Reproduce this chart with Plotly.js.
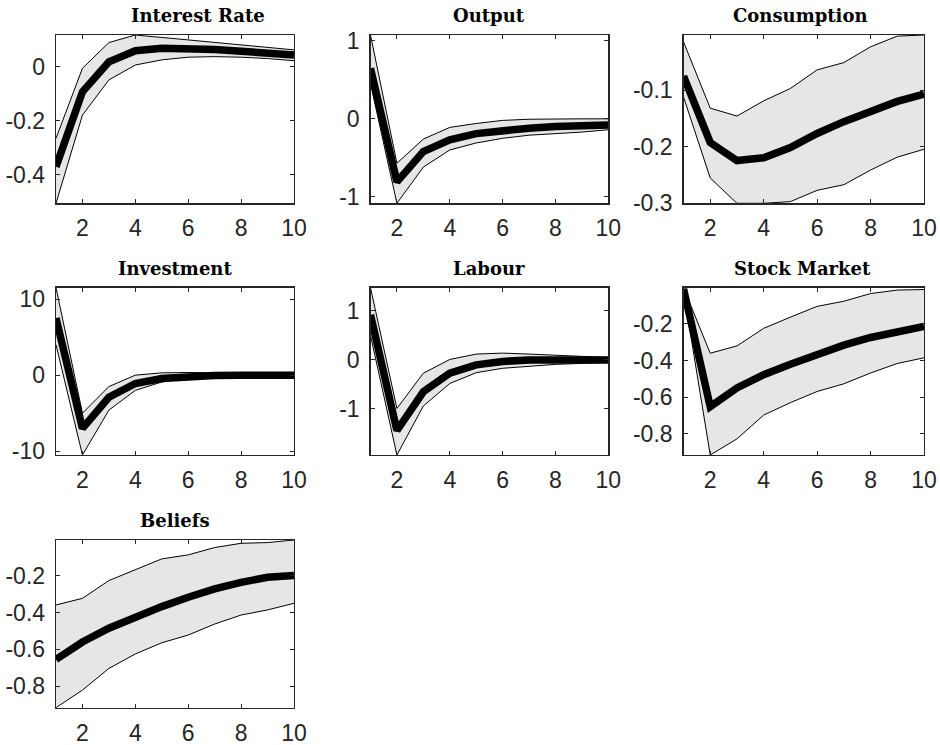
<!DOCTYPE html>
<html>
<head>
<meta charset="utf-8">
<script src="https://cdn.plot.ly/plotly-3.0.1.min.js"></script>
<style>html,body{margin:0;padding:0;background:#fff;}#chart{width:940px;height:745px;}</style>
</head>
<body>
<div id="chart"></div>
<script>
// ---- data ----
const horizon = [1, 2, 3, 4, 5, 6, 7, 8, 9, 10];
const panelTitles = ["Interest Rate", "Output", "Consumption", "Investment", "Labour", "Stock Market", "Beliefs"];

const irMed = [-0.370, -0.093, 0.018, 0.059, 0.068, 0.067, 0.063, 0.057, 0.050, 0.043];
const irUp  = [-0.265, -0.006, 0.089, 0.117, 0.108, 0.099, 0.090, 0.080, 0.071, 0.062];
const irLo  = [-0.505, -0.179, -0.049, 0.006, 0.025, 0.035, 0.037, 0.035, 0.030, 0.022];

const outMed = [0.65, -0.81, -0.42, -0.27, -0.19, -0.15, -0.12, -0.10, -0.09, -0.08];
const outUp  = [1.077, -0.57, -0.26, -0.11, -0.06, -0.02, -0.005, 0.0, 0.0, 0.0];
const outLo  = [0.45, -1.085, -0.62, -0.40, -0.31, -0.25, -0.21, -0.19, -0.17, -0.14];

const conMed = [-0.075, -0.193, -0.225, -0.220, -0.202, -0.177, -0.156, -0.137, -0.120, -0.107];
const conUp  = [-0.014, -0.132, -0.146, -0.119, -0.097, -0.064, -0.051, -0.023, -0.004, -0.002];
const conLo  = [-0.112, -0.256, -0.301, -0.301, -0.298, -0.278, -0.268, -0.242, -0.219, -0.205];

const invMed = [7.5, -7.0, -2.9, -1.1, -0.45, -0.15, -0.05, -0.02, 0.0, 0.0];
const invUp  = [11.5, -5.0, -1.5, 0.0, 0.3, 0.35, 0.3, 0.25, 0.2, 0.2];
const invLo  = [4.0, -10.5, -4.6, -2.0, -0.9, -0.4, -0.25, -0.15, -0.1, -0.1];

const labMed = [0.92, -1.44, -0.65, -0.27, -0.10, -0.03, 0.0, 0.01, 0.01, 0.0];
const labUp  = [1.475, -0.99, -0.27, 0.01, 0.12, 0.14, 0.12, 0.10, 0.07, 0.05];
const labLo  = [0.50, -1.94, -0.94, -0.48, -0.26, -0.17, -0.13, -0.09, -0.07, -0.05];

const stkMed = [-0.008, -0.652, -0.550, -0.477, -0.420, -0.366, -0.316, -0.274, -0.240, -0.213];
const stkUp  = [-0.002, -0.360, -0.320, -0.224, -0.163, -0.104, -0.076, -0.034, -0.015, -0.012];
const stkLo  = [-0.020, -0.916, -0.828, -0.698, -0.630, -0.569, -0.527, -0.468, -0.416, -0.385];

const belMed = [-0.655, -0.560, -0.485, -0.422, -0.367, -0.316, -0.270, -0.235, -0.207, -0.197];
const belUp  = [-0.358, -0.322, -0.225, -0.164, -0.107, -0.085, -0.045, -0.022, -0.018, -0.004];
const belLo  = [-0.918, -0.822, -0.704, -0.625, -0.564, -0.522, -0.462, -0.413, -0.385, -0.349];

const xTickVals = [2, 4, 6, 8, 10];
const xTickText = ["2", "4", "6", "8", "10"];
const yTickVals = [
  [-0.4, -0.2, 0], [-1, 0, 1], [-0.3, -0.2, -0.1], [-10, 0, 10],
  [-1, 0, 1], [-0.8, -0.6, -0.4, -0.2], [-0.8, -0.6, -0.4, -0.2]
];
const yTickText = [
  ["-0.4", "-0.2", "0"], ["-1", "0", "1"], ["-0.3", "-0.2", "-0.1"], ["-10", "0", "10"],
  ["-1", "0", "1"], ["-0.8", "-0.6", "-0.4", "-0.2"], ["-0.8", "-0.6", "-0.4", "-0.2"]
];

const medians = [irMed, outMed, conMed, invMed, labMed, stkMed, belMed];
const uppers  = [irUp, outUp, conUp, invUp, labUp, stkUp, belUp];
const lowers  = [irLo, outLo, conLo, invLo, labLo, stkLo, belLo];

// ---- layout geometry (pixels in a 940x745 page) ----
const W = 940, H = 745;
const colPx = [[56, 294], [370.5, 608.3], [683.5, 924]];
const rowPx = [[35, 203.3], [287.7, 455], [540, 707.7]];
const titleShift = [23, 0, -3, 0, 0, -1, 0];

const ink = '#262626';
const traces = [];
const layout = {
  width: W, height: H,
  margin: {l: 0, r: 0, t: 0, b: 0},
  paper_bgcolor: '#ffffff', plot_bgcolor: '#ffffff',
  showlegend: false,
  annotations: []
};

for (let i = 0; i < 7; i++) {
  const r = Math.floor(i / 3), c = i % 3;
  const sfx = i === 0 ? '' : String(i + 1);
  const xa = 'x' + sfx, ya = 'y' + sfx;
  traces.push({x: horizon, y: uppers[i], xaxis: xa, yaxis: ya, type: 'scatter', mode: 'lines',
    line: {color: '#000', width: 1}, hoverinfo: 'skip'});
  traces.push({x: horizon, y: lowers[i], xaxis: xa, yaxis: ya, type: 'scatter', mode: 'lines',
    fill: 'tonexty', fillcolor: '#e6e6e6', line: {color: '#000', width: 1}, hoverinfo: 'skip'});
  traces.push({x: horizon, y: medians[i], xaxis: xa, yaxis: ya, type: 'scatter', mode: 'lines',
    line: {color: '#000', width: 7.5}, hoverinfo: 'skip'});

  const yMin = Math.min(...lowers[i], ...medians[i]);
  const yMax = Math.max(...uppers[i], ...medians[i]);
  const common = {
    showline: true, linecolor: ink, linewidth: 1.3, mirror: 'ticks',
    ticks: 'inside', ticklen: 4, tickwidth: 1, tickcolor: ink,
    showgrid: false, zeroline: false,
    tickfont: {family: '"Liberation Sans", Arial, sans-serif', size: 23, color: ink}
  };
  layout['xaxis' + sfx] = Object.assign({}, common, {
    domain: [colPx[c][0] / W, colPx[c][1] / W],
    range: [horizon[0], horizon[horizon.length - 1]],
    anchor: ya, tickmode: 'array', tickvals: xTickVals, ticktext: xTickText,
    ticklabelstandoff: 4
  });
  layout['yaxis' + sfx] = Object.assign({}, common, {
    domain: [1 - rowPx[r][1] / H, 1 - rowPx[r][0] / H],
    range: [yMin, yMax],
    anchor: xa, tickmode: 'array', tickvals: yTickVals[i], ticktext: yTickText[i],
    ticklabelstandoff: 5
  });
  layout.annotations.push({
    text: '<b>' + panelTitles[i] + '</b>',
    xref: 'paper', yref: 'paper',
    x: (colPx[c][0] + colPx[c][1]) / 2 / W, y: 1 - rowPx[r][0] / H,
    xanchor: 'center', yanchor: 'bottom', xshift: titleShift[i], yshift: 7,
    showarrow: false,
    font: {family: 'DejaVu Serif, serif', size: 18, color: '#000'}
  });
}

Plotly.newPlot('chart', traces, layout, {staticPlot: true, displayModeBar: false});
</script>
</body>
</html>
